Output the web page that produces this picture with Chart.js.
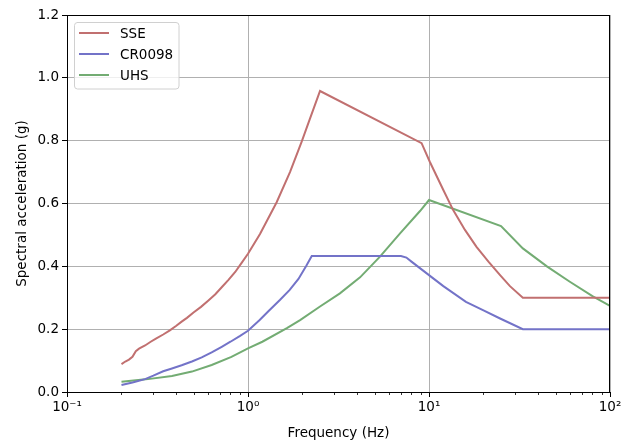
<!DOCTYPE html>
<html>
<head>
<meta charset="utf-8">
<script src="https://cdn.jsdelivr.net/npm/chart.js@4.4.1/dist/chart.umd.min.js"></script>
<style>
  html, body { margin: 0; padding: 0; background: #ffffff; }
  #wrap { width: 638px; height: 442px; }
</style>
</head>
<body>
<div id="wrap"><canvas id="spectra" width="638" height="442"></canvas></div>
<script>
// series
const sseFreq  = [0.2, 0.21, 0.22, 0.23, 0.24, 0.25, 0.27, 0.29, 0.31, 0.34, 0.37, 0.40, 0.43, 0.46, 0.50, 0.55, 0.60, 0.66, 0.72, 0.78, 0.85, 0.92, 1.0, 1.165, 1.44, 1.706, 1.98, 2.2, 2.5, 9.1, 10.1, 12, 13.6, 15.8, 18.3, 21.3, 24.7, 28, 33, 100];
const sseAccel = [0.089, 0.097, 0.103, 0.112, 0.130, 0.138, 0.148, 0.160, 0.170, 0.183, 0.196, 0.210, 0.224, 0.236, 0.253, 0.271, 0.290, 0.311, 0.335, 0.357, 0.382, 0.410, 0.440, 0.503, 0.604, 0.700, 0.797, 0.870, 0.958, 0.792, 0.733, 0.643, 0.579, 0.516, 0.462, 0.415, 0.372, 0.337, 0.300, 0.300];

const crFreq  = [0.2, 0.23, 0.27, 0.3, 0.34, 0.38, 0.43, 0.49, 0.555, 0.63, 0.716, 0.8, 0.9, 1.0, 1.16, 1.3, 1.5, 1.7, 1.9, 2.1, 2.25, 7.0, 7.5, 8.0, 10, 12, 16, 20, 24.7, 33, 100];
const crAccel = [0.022, 0.030, 0.041, 0.052, 0.066, 0.075, 0.085, 0.097, 0.110, 0.126, 0.144, 0.160, 0.178, 0.195, 0.229, 0.258, 0.293, 0.325, 0.360, 0.402, 0.433, 0.433, 0.428, 0.415, 0.372, 0.337, 0.287, 0.260, 0.234, 0.200, 0.200];

const uhsFreq  = [0.2, 0.28, 0.38, 0.49, 0.63, 0.81, 1.0, 1.2, 1.64, 1.94, 2.5, 3.22, 4.16, 5.36, 6.92, 8.92, 10, 25, 33, 45, 60, 80, 100];
const uhsAccel = [0.033, 0.041, 0.051, 0.065, 0.086, 0.112, 0.139, 0.160, 0.203, 0.229, 0.272, 0.314, 0.365, 0.431, 0.505, 0.576, 0.611, 0.528, 0.457, 0.399, 0.351, 0.305, 0.274];

const seriesNames = ['SSE', 'CR0098', 'UHS'];
const seriesColors = ['rgb(193,112,112)', 'rgb(115,115,200)', 'rgb(115,172,115)'];

const xMajor = [0.1, 1, 10, 100];
const xLabels = ['10\u207B\u00B9', '10\u2070', '10\u00B9', '10\u00B2'];
const yMin = 0, yMax = 1.2, yStep = 0.2;

const FONT = "'DejaVu Sans', sans-serif";
const toPoints = (xs, ys) => xs.map((x, i) => ({ x: x, y: ys[i] }));

// top/right spines, minor log ticks, matplotlib style legend
const framePlugin = {
    id: 'frame',
    afterDraw(chart) {
        const ctx = chart.ctx;
        const a = chart.chartArea;
        const xs = chart.scales.x;
        ctx.save();
        ctx.strokeStyle = '#000';
        ctx.lineWidth = 1;
        ctx.strokeRect(a.left + 0.5, a.top + 0.5, a.right - a.left - 1, a.bottom - a.top);

        // minor ticks
        ctx.lineWidth = 0.8;
        for (let d = 0.1; d < 100; d *= 10) {
            for (let m = 2; m <= 9; m++) {
                const px = Math.round(xs.getPixelForValue(d * m)) + 0.5;
                ctx.beginPath();
                ctx.moveTo(px, a.bottom);
                ctx.lineTo(px, a.bottom + 3);
                ctx.stroke();
            }
        }

        // legend
        const bx = 74, by = 22, bw = 105, bh = 67, r = 3;
        ctx.fillStyle = 'rgba(255,255,255,0.8)';
        ctx.strokeStyle = '#d0d0d0';
        ctx.lineWidth = 1;
        ctx.beginPath();
        ctx.moveTo(bx + r, by + 0.5);
        ctx.arcTo(bx + bw, by + 0.5, bx + bw, by + bh, r);
        ctx.arcTo(bx + bw, by + bh, bx, by + bh, r);
        ctx.arcTo(bx + 0.5, by + bh, bx + 0.5, by, r);
        ctx.arcTo(bx + 0.5, by + 0.5, bx + bw, by + 0.5, r);
        ctx.closePath();
        ctx.fill();
        ctx.stroke();

        ctx.font = '13.5px ' + FONT;
        ctx.textBaseline = 'middle';
        ctx.textAlign = 'left';
        chart.data.datasets.forEach((ds, i) => {
            const ly = by + 11 + i * 21;
            ctx.strokeStyle = ds.borderColor;
            ctx.lineWidth = 2;
            ctx.beginPath();
            ctx.moveTo(bx + 5, ly);
            ctx.lineTo(bx + 35, ly);
            ctx.stroke();
            ctx.fillStyle = '#000';
            ctx.fillText(ds.label, bx + 46, ly + 1);
        });
        ctx.restore();
    }
};

const canvas = document.getElementById('spectra');
const ctx = canvas.getContext('2d');

new Chart(ctx, {
    type: 'line',
    data: {
        datasets: [
            { label: seriesNames[0], data: toPoints(sseFreq, sseAccel), borderColor: seriesColors[0] },
            { label: seriesNames[1], data: toPoints(crFreq, crAccel), borderColor: seriesColors[1] },
            { label: seriesNames[2], data: toPoints(uhsFreq, uhsAccel), borderColor: seriesColors[2] }
        ].map(ds => Object.assign(ds, {
            borderWidth: 2,
            pointRadius: 0,
            tension: 0,
            fill: false,
            backgroundColor: ds.borderColor
        }))
    },
    options: {
        responsive: false,
        animation: false,
        devicePixelRatio: 1,
        layout: { padding: { left: 0, top: 15, right: 28, bottom: 0 } },
        plugins: {
            legend: { display: false },
            tooltip: { enabled: false }
        },
        scales: {
            x: {
                type: 'logarithmic',
                min: 0.1,
                max: 100,
                afterBuildTicks: (axis) => { axis.ticks = xMajor.map(v => ({ value: v })); },
                afterFit: (axis) => { axis.height = 50; },
                grid: { color: '#b0b0b0', lineWidth: 1, tickColor: '#000', tickLength: 5, tickWidth: 1 },
                border: { display: true, color: '#000', width: 1 },
                ticks: {
                    color: '#000',
                    padding: 2,
                    maxRotation: 0,
                    autoSkip: false,
                    font: { family: FONT, size: 13.5 },
                    callback: (v) => xLabels[xMajor.indexOf(v)] ?? ''
                },
                title: {
                    display: true,
                    text: 'Frequency (Hz)',
                    color: '#000',
                    font: { family: FONT, size: 13.5 },
                    padding: { top: 0, bottom: 0 }
                }
            },
            y: {
                min: yMin,
                max: yMax,
                afterFit: (axis) => { axis.width = 67; },
                grid: { color: '#b0b0b0', lineWidth: 1, tickColor: '#000', tickLength: 5, tickWidth: 1 },
                border: { display: true, color: '#000', width: 1 },
                ticks: {
                    stepSize: yStep,
                    color: '#000',
                    padding: 3,
                    font: { family: FONT, size: 13.5 },
                    callback: (v) => v.toFixed(1)
                },
                title: {
                    display: true,
                    text: 'Spectral acceleration (g)',
                    color: '#000',
                    font: { family: FONT, size: 13.5 },
                    padding: { top: 14, bottom: 0 }
                }
            }
        }
    },
    plugins: [framePlugin]
});
</script>
</body>
</html>
